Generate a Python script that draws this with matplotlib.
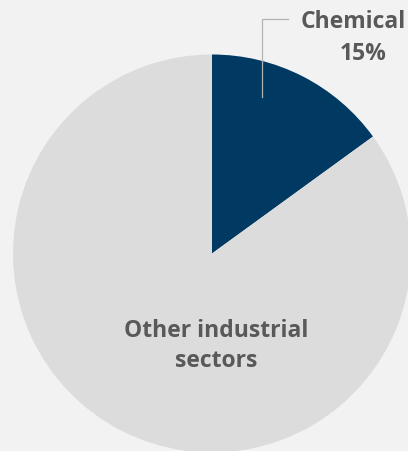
import matplotlib.pyplot as plt

labels = ["Chemical", "Other industrial\nsectors"]
shares = [15, 85]
colors = ["#003a63", "#dcdcdd"]

W, H = 408, 452
BG = "#f2f2f2"
TXT = "#595959"

fig = plt.figure(figsize=(W / 100, H / 100), dpi=100, facecolor=BG)
ax = fig.add_axes([0, 0, 1, 1])
ax.set_facecolor(BG)

ax.pie(shares, colors=colors, startangle=90, counterclock=False,
       center=(212, H - 254.5), radius=199,
       wedgeprops=dict(linewidth=0))

ax.set_xlim(0, W)
ax.set_ylim(0, H)
ax.set_aspect("equal")
ax.axis("off")

font = dict(family="Open Sans", weight="bold", color=TXT, fontsize=16.5)

# leader line for the small slice
ax.plot([262, 262, 288], [H - 98, H - 20, H - 20], color="#b3b3b3", lw=0.9)

ax.text(353, H - 28, labels[0], ha="center", va="baseline", **font)
ax.text(363, H - 60, "%d%%" % shares[0], ha="center", va="baseline", **font)

ax.text(216, H - 337, "Other industrial", ha="center", va="baseline", **font)
ax.text(216, H - 367, "sectors", ha="center", va="baseline", **font)

fig.savefig("out.png", dpi=100, facecolor=BG)
